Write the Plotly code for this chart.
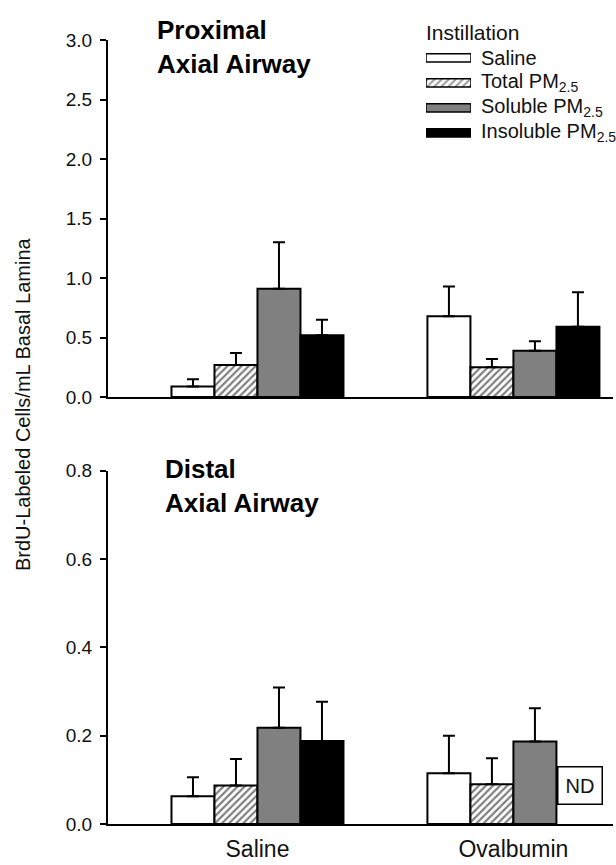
import plotly.graph_objects as go

# ---------------- data ----------------
groups = ["Saline", "Ovalbumin"]
series = ["Saline", "Total PM<sub>2.5</sub>", "Soluble PM<sub>2.5</sub>", "Insoluble PM<sub>2.5</sub>"]

prox_saline = [0.09, 0.68]
prox_saline_err = [0.06, 0.25]
prox_total = [0.27, 0.25]
prox_total_err = [0.10, 0.07]
prox_soluble = [0.91, 0.39]
prox_soluble_err = [0.39, 0.08]
prox_insoluble = [0.52, 0.59]
prox_insoluble_err = [0.13, 0.29]

dist_saline = [0.063, 0.115]
dist_saline_err = [0.043, 0.085]
dist_total = [0.087, 0.09]
dist_total_err = [0.06, 0.059]
dist_soluble = [0.218, 0.187]
dist_soluble_err = [0.091, 0.075]
dist_insoluble = [0.188, None]   # Ovalbumin: ND
dist_insoluble_err = [0.089, 0]

prox_ticks = [0.0, 0.5, 1.0, 1.5, 2.0, 2.5, 3.0]
dist_ticks = [0.0, 0.2, 0.4, 0.6, 0.8]

# ---------------- layout helpers ----------------
W, H = 616, 865
ML, MR, MT, MB = 108, 3, 40, 39
PW, PH = W - ML - MR, H - MT - MB
FONT = "Liberation Sans, Arial, sans-serif"
TXT = "#111111"


def px_x(px):
    return (px - ML) / PW


def px_y(py):
    return (H - MB - py) / PH


hatch = dict(shape="/", fgcolor="#000000", bgcolor="white", size=5, solidity=0.45)
styles = [
    dict(color="white", pattern=dict(shape="")),
    dict(color="white", pattern=hatch),
    dict(color="#808080", pattern=dict(shape="")),
    dict(color="black", pattern=dict(shape="")),
]

x_pos = [0, 1]

fig = go.Figure()

prox_vals = [prox_saline, prox_total, prox_soluble, prox_insoluble]
prox_errs = [prox_saline_err, prox_total_err, prox_soluble_err, prox_insoluble_err]
dist_vals = [dist_saline, dist_total, dist_soluble, dist_insoluble]
dist_errs = [dist_saline_err, dist_total_err, dist_soluble_err, dist_insoluble_err]

for i, name in enumerate(series):
    st = styles[i]
    for vals, errs, xa, ya in [(prox_vals, prox_errs, "x", "y"), (dist_vals, dist_errs, "x2", "y2")]:
        fig.add_trace(go.Bar(
            x=x_pos, y=vals[i], name=name, xaxis=xa, yaxis=ya, showlegend=False,
            marker=dict(color=st["color"], pattern=st["pattern"],
                        line=dict(color="black", width=2)),
            error_y=dict(type="data", array=errs[i], arrayminus=[0, 0], symmetric=False,
                         color="black", thickness=2, width=6),
            offsetgroup=str(i),
        ))

# legend swatches drawn as horizontal bars on a small auxiliary axis
leg_y = [0, 1, 2, 3]
fig.add_trace(go.Bar(
    y=leg_y, x=[1, 1, 1, 1], orientation="h", xaxis="x3", yaxis="y3", showlegend=False,
    width=0.33, hoverinfo="skip",
    marker=dict(color=[s["color"] for s in styles],
                pattern=dict(shape=[s["pattern"]["shape"] for s in styles],
                             fgcolor="#000000", bgcolor="white", size=5, solidity=0.45),
                line=dict(color="black", width=1.5)),
))

axis_common = dict(showline=True, linecolor="black", linewidth=2, showgrid=False, zeroline=False,
                   mirror=False)
xrange = [-0.584, 1.389]

fig.update_layout(
    width=W, height=H, margin=dict(l=ML, r=MR, t=MT, b=MB),
    plot_bgcolor="white", paper_bgcolor="white",
    barmode="group", bargap=0.328, bargroupgap=0,
    font=dict(family=FONT, color=TXT),
    showlegend=False,
    xaxis=dict(**axis_common, range=xrange, domain=[0, 1], anchor="y", showticklabels=False, ticks=""),
    yaxis=dict(**axis_common, range=[0, 3], domain=[px_y(398), px_y(40)], anchor="x",
               tickvals=prox_ticks, ticktext=[f"{v:.1f}" for v in prox_ticks],
               ticks="outside", ticklen=6, tickwidth=2, tickcolor="black", ticklabelstandoff=4,
               tickfont=dict(size=19, family=FONT, color=TXT)),
    xaxis2=dict(**axis_common, range=xrange, domain=[0, 1], anchor="y2",
                tickvals=x_pos, ticktext=groups, ticks="", ticklabelstandoff=3,
                tickfont=dict(size=23, family=FONT, color=TXT)),
    yaxis2=dict(**axis_common, range=[0, 0.8], domain=[0, px_y(471.7)], anchor="x2",
                tickvals=dist_ticks, ticktext=[f"{v:.1f}" for v in dist_ticks],
                ticks="outside", ticklen=6, tickwidth=2, tickcolor="black", ticklabelstandoff=4,
                tickfont=dict(size=19, family=FONT, color=TXT)),
    xaxis3=dict(range=[0, 1], domain=[px_x(426), px_x(471)], anchor="y3", visible=False, fixedrange=True),
    yaxis3=dict(range=[3.5, -0.5], domain=[px_y(145.5), px_y(45.5)], anchor="x3", visible=False, fixedrange=True),
)

annotations = [
    dict(text="BrdU-Labeled Cells/mL Basal Lamina", x=px_x(23), y=px_y(405), xref="paper", yref="paper",
         textangle=-90, showarrow=False, font=dict(size=20, family=FONT, color=TXT),
         xanchor="center", yanchor="middle"),
    dict(text="<b>Proximal<br>Axial Airway</b>", x=px_x(155), y=px_y(13), xref="paper", yref="paper",
         showarrow=False, align="left", xanchor="left", yanchor="top",
         font=dict(size=26, family=FONT, color="black")),
    dict(text="<b>Distal<br>Axial Airway</b>", x=px_x(163), y=px_y(453), xref="paper", yref="paper",
         showarrow=False, align="left", xanchor="left", yanchor="top",
         font=dict(size=26, family=FONT, color="black")),
    dict(text="Instillation", x=px_x(424), y=px_y(32), xref="paper", yref="paper",
         showarrow=False, xanchor="left", yanchor="middle",
         font=dict(size=21, family=FONT, color=TXT)),
    dict(text="ND", x=1.26, y=0.088, xref="x2", yref="y2", showarrow=False,
         bordercolor="black", borderwidth=1.5, borderpad=7, bgcolor="white",
         font=dict(size=20, family=FONT, color=TXT)),
]
for j, name in enumerate(series):
    annotations.append(dict(text=name, x=1.0, y=leg_y[j], xref="x3 domain", yref="y3",
                            xshift=8, showarrow=False, xanchor="left", yanchor="middle",
                            font=dict(size=20, family=FONT, color=TXT)))

fig.update_layout(annotations=annotations)

fig.write_html("out.html")
